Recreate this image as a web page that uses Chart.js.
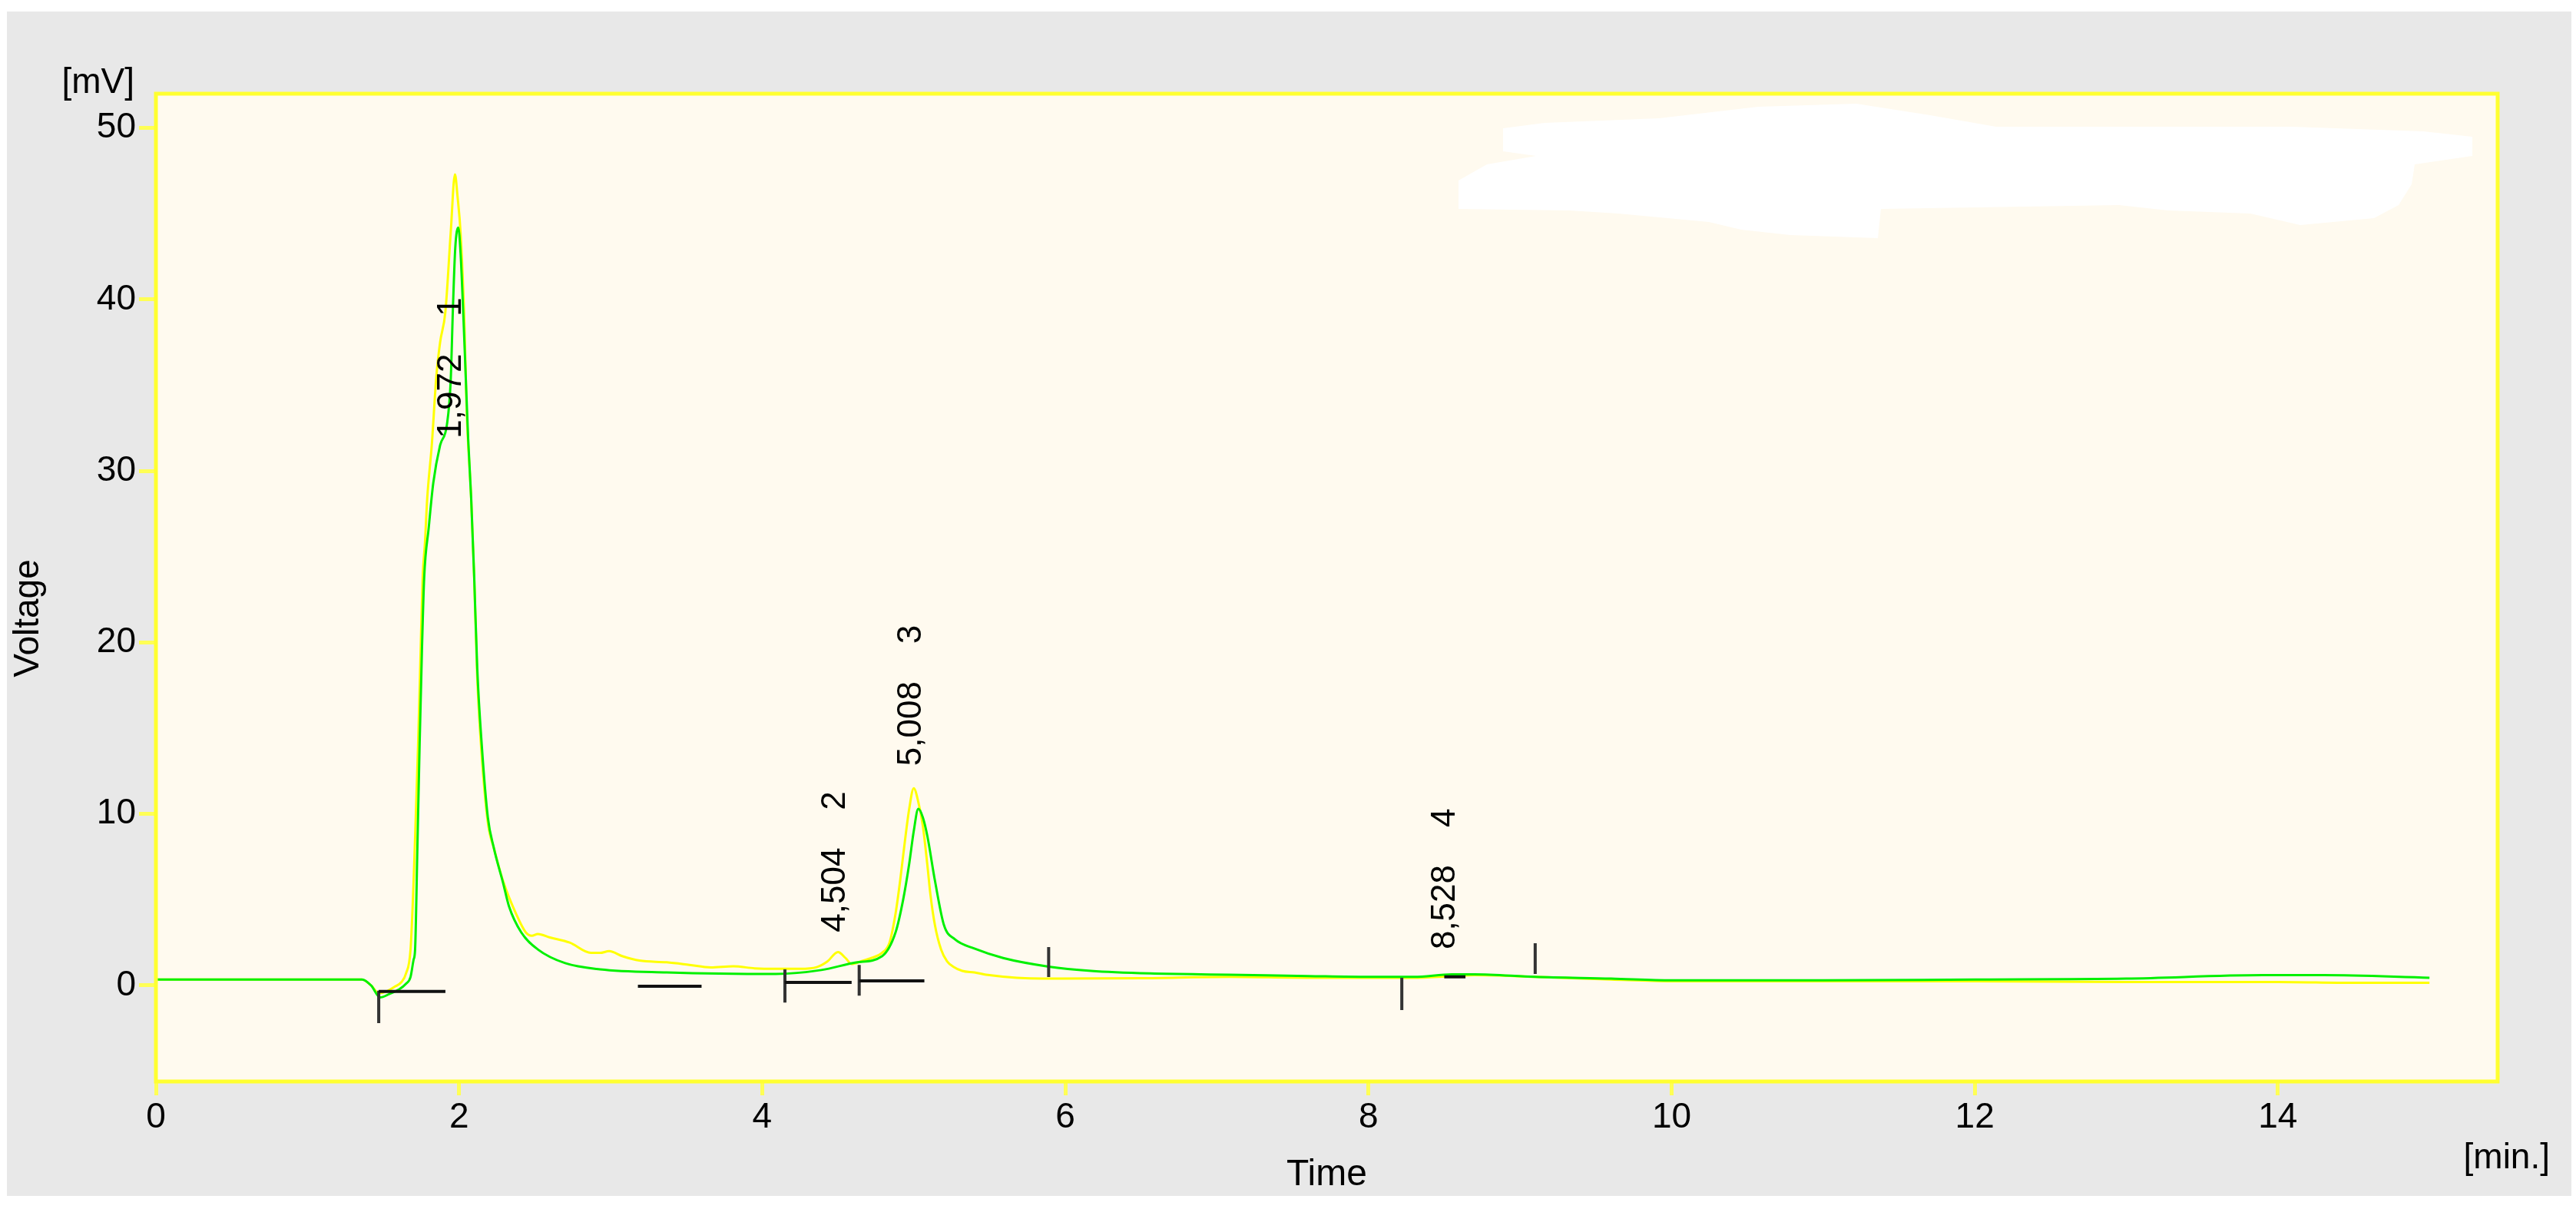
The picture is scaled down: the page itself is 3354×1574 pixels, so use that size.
<!DOCTYPE html>
<html>
<head>
<meta charset="utf-8">
<title>Chromatogram</title>
<script src="https://cdn.jsdelivr.net/npm/chart.js@4.4.1/dist/chart.umd.min.js"></script>
<style>
  html, body { margin: 0; padding: 0; background: #ffffff; }
  #wrap { width: 3354px; height: 1574px; }
</style>
</head>
<body>
<div id="wrap"><canvas id="chromChart" width="3354" height="1574"></canvas></div>
<script>
// Yellow trace (time in min, signal in mV)
const yellowTime = [0, 0.5, 1.0, 1.36, 1.42, 1.47, 1.52, 1.58, 1.62, 1.65, 1.68, 1.70, 1.715, 1.73, 1.745,
  1.76, 1.775, 1.79, 1.82, 1.85, 1.875, 1.91, 1.945, 1.973, 1.99, 2.01, 2.035, 2.05, 2.08, 2.10, 2.12,
  2.145, 2.19, 2.23, 2.29, 2.38, 2.44, 2.48, 2.52, 2.6, 2.73, 2.87, 2.93, 2.99, 3.08, 3.19, 3.37, 3.52,
  3.66, 3.81, 3.95, 4.09, 4.25, 4.36, 4.43, 4.50, 4.55, 4.59, 4.65, 4.72, 4.79, 4.84, 4.88, 4.91, 4.94,
  4.97, 5.00, 5.03, 5.06, 5.09, 5.11, 5.14, 5.18, 5.22, 5.26, 5.32, 5.40, 5.5, 5.68, 5.98, 6.5, 7.08,
  7.6, 8.0, 8.3, 8.55, 8.7, 9.1, 9.6, 10.0, 10.5, 11, 12, 13, 14, 14.5, 15.0];
const yellowMv = [0.35, 0.35, 0.35, 0.35, 0.0, -0.45, -0.35, -0.05, 0.2, 0.7, 2.1, 6.0, 10.0, 14.1, 19.0,
  23.8, 25.8, 28.4, 31.5, 35.5, 37.5, 39.3, 43.9, 47.3, 46.0, 43.9, 38.7, 33.6, 28.4, 23.8, 18.0,
  14.0, 9.5, 8.0, 6.1, 4.1, 3.1, 2.9, 3.0, 2.8, 2.5, 1.9, 1.9, 2.0, 1.7, 1.45, 1.35, 1.2,
  1.05, 1.12, 1.0, 0.97, 0.97, 1.07, 1.4, 1.95, 1.6, 1.25, 1.4, 1.6, 1.9, 2.5, 4.2, 6.1, 8.3,
  10.3, 11.5, 10.7, 9.3, 7.0, 5.3, 3.5, 2.1, 1.4, 1.1, 0.85, 0.76, 0.6, 0.45, 0.4, 0.42, 0.5,
  0.45, 0.45, 0.45, 0.55, 0.6, 0.5, 0.35, 0.25, 0.25, 0.25, 0.25, 0.2, 0.2, 0.15, 0.15];

// Green trace
const greenTime = [0, 0.5, 1.0, 1.36, 1.42, 1.48, 1.54, 1.6, 1.65, 1.68, 1.70, 1.71, 1.725, 1.74, 1.755,
  1.77, 1.80, 1.83, 1.875, 1.92, 1.945, 1.96, 1.975, 1.995, 2.01, 2.03, 2.045, 2.06, 2.08, 2.10, 2.12,
  2.15, 2.19, 2.23, 2.29, 2.33, 2.41, 2.52, 2.70, 2.93, 3.37, 4.09, 4.39, 4.62, 4.79, 4.88, 4.93, 4.97,
  5.00, 5.03, 5.06, 5.09, 5.14, 5.20, 5.27, 5.40, 5.59, 5.89, 6.17, 6.56, 7.08, 7.6, 8.0, 8.3, 8.55,
  8.7, 9.1, 9.6, 10.0, 10.5, 11, 12, 13, 13.9, 14.3, 15.0];
const greenMv = [0.35, 0.35, 0.35, 0.35, 0.0, -0.7, -0.5, -0.25, 0.1, 0.5, 1.5, 2.1, 8.0, 14.1, 19.5,
  23.8, 26.7, 29.3, 31.5, 32.7, 35.3, 39.6, 43.0, 44.2, 42.7, 38.7, 35.3, 31.9, 28.4, 23.8, 18.5,
  14.0, 9.8, 8.0, 6.0, 4.6, 3.1, 2.1, 1.3, 0.94, 0.76, 0.67, 0.9, 1.34, 1.7, 3.1, 5.0, 7.1,
  9.0, 10.3, 9.8, 8.7, 6.1, 3.5, 2.7, 2.15, 1.6, 1.1, 0.85, 0.7, 0.63, 0.55, 0.5, 0.5, 0.65,
  0.65, 0.5, 0.4, 0.3, 0.3, 0.3, 0.35, 0.4, 0.6, 0.6, 0.45];

// Integration marks
const baseStart = [1.47, 3.18, 4.15, 4.64, 8.50];
const baseEnd = [1.91, 3.60, 4.59, 5.07, 8.64];
const baseMv = [-0.35, -0.05, 0.18, 0.27, 0.5];
const markTime = [1.47, 4.15, 4.64, 5.89, 8.22, 9.10];
const markLow = [-2.2, -1.0, -0.6, 0.49, -1.43, 0.67];
const markHigh = [-0.3, 0.94, 1.2, 2.24, 0.45, 2.46];

// Peak labels
const peakTime = [1.972, 4.504, 5.008, 8.528];
const peakName = ["1", "2", "3", "4"];
const peakLabelMv = [31.9, 3.1, 12.8, 2.1];

// Axes
const xTickValues = [0, 2, 4, 6, 8, 10, 12, 14];
const yTickValues = [0, 10, 20, 30, 40, 50];

const FONT = '"Liberation Sans", Arial, sans-serif';
Chart.defaults.font.family = FONT;
Chart.defaults.color = "#000";

function toPoints(ts, vs) {
  return ts.map((t, i) => ({ x: t, y: vs[i] }));
}

const baselinePoints = [];
baseStart.forEach((s, i) => {
  baselinePoints.push({ x: s, y: baseMv[i] }, { x: baseEnd[i], y: baseMv[i] }, { x: baseEnd[i], y: null });
});
const markPoints = [];
markTime.forEach((t, i) => {
  markPoints.push({ x: t, y: markLow[i] }, { x: t, y: markHigh[i] }, { x: t, y: null });
});

// grey panel, plot background, frame, labels
const chromDecor = {
  id: "chromDecor",
  beforeDraw(chart) {
    const { ctx, chartArea: a } = chart;
    ctx.save();
    ctx.fillStyle = "#e8e8e8";
    ctx.fillRect(9, 15, 3339, 1542);
    ctx.fillStyle = "#fffaef";
    ctx.fillRect(a.left, a.top, a.right - a.left, a.bottom - a.top);
    ctx.restore();
  },
  beforeDatasetsDraw(chart) {
    // blanked-out legend area
    const ctx = chart.ctx;
    const blob = [[1957,167],[2011,160],[2160,154],[2289,139],[2417,135],[2513,150],[2599,165],[2984,165],
      [3155,171],[3219,178],[3219,203],[3144,214],[3140,240],[3123,267],[3091,284],[2995,293],[2930,278],
      [2823,274],[2759,267],[2449,272],[2445,310],[2331,306],[2267,299],[2225,289],[2107,278],[2043,274],
      [1899,272],[1899,235],[1936,214],[2000,203],[1957,197]];
    ctx.save();
    ctx.fillStyle = "#ffffff";
    ctx.beginPath();
    blob.forEach(([px, py], i) => (i ? ctx.lineTo(px, py) : ctx.moveTo(px, py)));
    ctx.closePath();
    ctx.fill();
    ctx.restore();
  },
  afterDatasetsDraw(chart) {
    const { ctx, chartArea: a, scales } = chart;
    ctx.save();
    // peak labels, rotated
    ctx.fillStyle = "#000";
    ctx.font = "44px " + FONT;
    ctx.textAlign = "left";
    ctx.textBaseline = "alphabetic";
    peakTime.forEach((t, i) => {
      const px = scales.x.getPixelForValue(t);
      const py = scales.y.getPixelForValue(peakLabelMv[i]);
      ctx.save();
      ctx.translate(px + 8, py);
      ctx.rotate(-Math.PI / 2);
      ctx.fillText(t.toFixed(3).replace(".", ",") + "    " + peakName[i], 0, 0);
      ctx.restore();
    });
    // frame
    ctx.strokeStyle = "#ffff30";
    ctx.lineWidth = 5;
    ctx.strokeRect(a.left, a.top, a.right - a.left, a.bottom - a.top);
    // units and y title
    ctx.font = "46px " + FONT;
    ctx.textBaseline = "middle";
    ctx.textAlign = "right";
    ctx.fillText("[mV]", a.left - 28, a.top - 14);
    ctx.fillText("[min.]", a.right + 68, a.bottom + 100);
    ctx.save();
    ctx.translate(37, (a.top + a.bottom) / 2 + 40);
    ctx.rotate(-Math.PI / 2);
    ctx.textAlign = "center";
    ctx.fillText("Voltage", 0, 0);
    ctx.restore();
    ctx.restore();
  }
};

new Chart(document.getElementById("chromChart"), {
  type: "line",
  data: {
    datasets: [
      {
        label: "Baseline",
        data: baselinePoints,
        borderColor: "#111",
        borderWidth: 4,
        pointRadius: 0,
        tension: 0,
        spanGaps: false,
      },
      {
        label: "Marks",
        data: markPoints,
        borderColor: "#333",
        borderWidth: 4,
        pointRadius: 0,
        tension: 0,
        spanGaps: false,
      },
      {
        label: "Green",
        data: toPoints(greenTime, greenMv),
        borderColor: "#00f000",
        borderWidth: 3,
        pointRadius: 0,
        cubicInterpolationMode: "monotone",
      },
      {
        label: "Yellow",
        data: toPoints(yellowTime, yellowMv),
        borderColor: "#ffff00",
        borderWidth: 3,
        pointRadius: 0,
        cubicInterpolationMode: "monotone",
      },
    ],
  },
  options: {
    responsive: false,
    animation: false,
    devicePixelRatio: 1,
    layout: { padding: { top: 122, right: 102, bottom: 0, left: 0 } },
    plugins: {
      legend: { display: false },
      tooltip: { enabled: false },
    },
    scales: {
      x: {
        type: "linear",
        min: 0,
        max: 15.45,
        afterBuildTicks: (s) => { s.ticks = xTickValues.map((v) => ({ value: v })); },
        afterFit: (s) => { s.height = 166; },
        border: { display: false },
        grid: { drawOnChartArea: false, drawTicks: true, tickLength: 18, color: "#ffff55", lineWidth: 5 },
        ticks: { font: { size: 46 }, color: "#000", padding: 2, maxRotation: 0, autoSkip: false },
        title: { display: true, text: "Time", font: { size: 48 }, color: "#000", padding: { top: 0, bottom: 15 } },
      },
      y: {
        type: "linear",
        min: -5.6,
        max: 52,
        afterBuildTicks: (s) => { s.ticks = yTickValues.map((v) => ({ value: v })); },
        afterFit: (s) => { s.width = 203; },
        border: { display: false },
        grid: { drawOnChartArea: false, drawTicks: true, tickLength: 22, color: "#ffff55", lineWidth: 5 },
        ticks: { font: { size: 46 }, color: "#000", padding: 4 },
        title: { display: false },
      },
    },
  },
  plugins: [chromDecor],
});
</script>
</body>
</html>
